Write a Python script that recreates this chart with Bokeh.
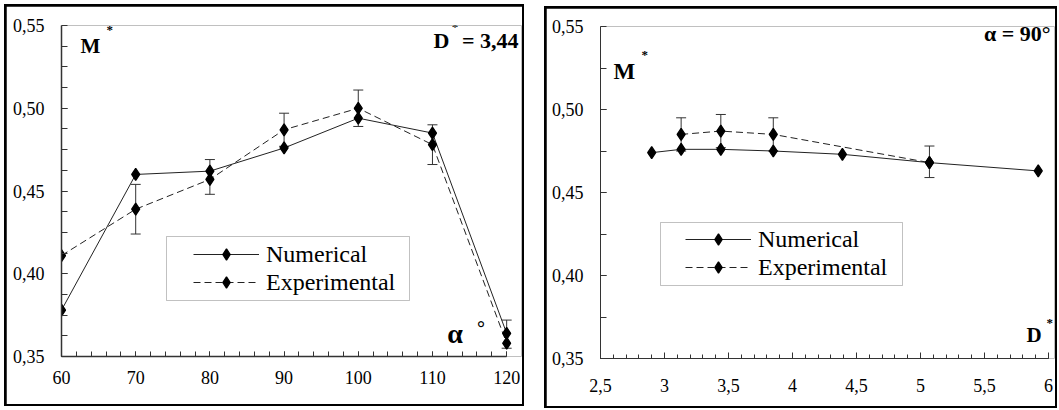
import numpy as np
from bokeh.plotting import figure
from bokeh.models import (ColumnDataSource, Range1d, FixedTicker, CustomJSTickFormatter,
                          Label, Legend, LegendItem, Whisker, TeeHead, BoxAnnotation)
from bokeh.layouts import row, column
from bokeh.embed import file_html
from bokeh.resources import INLINE

# ---------------- data: left panel (D* = 3,44) ----------------
alpha_deg = [60, 70, 80, 90, 100, 110, 120]
m_num_alpha = [0.378, 0.460, 0.462, 0.476, 0.494, 0.485, 0.364]
m_exp_alpha = [0.411, 0.439, 0.457, 0.487, 0.500, 0.478, 0.358]
m_exp_alpha_lo = [None, 0.424, 0.448, 0.477, 0.489, 0.466, 0.355]
m_exp_alpha_hi = [None, 0.454, 0.469, 0.497, 0.511, 0.490, 0.372]

# ---------------- data: right panel (alpha = 90°) ----------------
d_num = [2.90, 3.13, 3.44, 3.85, 4.39, 5.07, 5.92]
m_num_d = [0.474, 0.476, 0.476, 0.475, 0.473, 0.468, 0.463]
d_exp = [3.13, 3.44, 3.85, 5.07]
m_exp_d = [0.485, 0.487, 0.485, 0.468]
m_exp_d_lo = [0.475, 0.477, 0.475, 0.459]
m_exp_d_hi = [0.495, 0.497, 0.495, 0.478]

# ---------------- ticks ----------------
alpha_ticks = [60, 70, 80, 90, 100, 110, 120]
alpha_tick_labels = ["60", "70", "80", "90", "100", "110", "120"]
d_ticks = [2.5, 3.0, 3.5, 4.0, 4.5, 5.0, 5.5, 6.0]
d_tick_labels = ["2,5", "3", "3,5", "4", "4,5", "5", "5,5", "6"]
m_ticks = [0.35, 0.40, 0.45, 0.50, 0.55]
m_tick_labels = ["0,35", "0,40", "0,45", "0,50", "0,55"]

SERIF = "Liberation Serif"
INK = "#222222"
FONT_CSS = {"font-family": "'Liberation Serif', 'Times New Roman', serif"}


def fmt(ticks, labels):
    return CustomJSTickFormatter(args=dict(vals=ticks, labs=labels), code="""
        for (let i = 0; i < vals.length; i++) {
            if (Math.abs(vals[i] - tick) < 1e-6) { return labs[i]; }
        }
        return "";
    """)


def base_fig(width, x_range, mb_left, mb_right, mb_top, mb_bottom):
    p = figure(width=width, height=398, x_range=x_range, y_range=Range1d(0.35, 0.55),
               output_backend="svg", toolbar_location=None,
               min_border_left=mb_left, min_border_right=mb_right,
               min_border_top=mb_top, min_border_bottom=mb_bottom,
               styles=dict(FONT_CSS))
    p.grid.visible = False
    p.outline_line_color = None
    p.background_fill_color = "white"
    p.border_fill_color = "white"
    for ax in (p.xaxis[0], p.yaxis[0]):
        ax.major_label_text_font = SERIF
        ax.major_label_text_font_size = "18px"
        ax.major_label_text_color = "black"
        ax.major_tick_out = 0
        ax.minor_tick_out = 0
        ax.axis_line_color = "#333333"
        ax.major_tick_line_color = "#333333"
        ax.minor_tick_line_color = "#333333"
    return p


def add_text(p, x, y, text, size, bold=True, align="left"):
    p.add_layout(Label(x=x, y=y, text=text, text_font=SERIF, text_font_size=size,
                       text_font_style="bold" if bold else "normal",
                       text_align=align, text_baseline="alphabetic", text_color="black"))


def add_series(p, xs_n, ys_n, xs_e, ys_e, xs_w, lo, hi, legend_xy, box):
    src_w = ColumnDataSource(dict(x=xs_w, lo=lo, hi=hi))
    p.add_layout(Whisker(source=src_w, base="x", lower="lo", upper="hi",
                         line_color="#333333", line_width=1,
                         upper_head=TeeHead(size=10, line_color="#333333", line_width=1),
                         lower_head=TeeHead(size=10, line_color="#333333", line_width=1)))
    ln = p.line(xs_n, ys_n, line_color=INK, line_width=1)
    le = p.line(xs_e, ys_e, line_color=INK, line_width=1, line_dash="7 4")
    se = p.scatter(xs_e, ys_e, marker="diamond", size=12, line_width=1.3,
                   fill_color="black", line_color="black")
    sn = p.scatter(xs_n, ys_n, marker="diamond", size=12, line_width=1.3,
                   fill_color="black", line_color="black")
    legend = Legend(items=[LegendItem(label="Numerical", renderers=[ln, sn]),
                           LegendItem(label="Experimental", renderers=[le, se])],
                    location=legend_xy, padding=4, spacing=0, margin=0,
                    glyph_width=66, glyph_height=28, label_height=28, label_standoff=7,
                    label_text_font=SERIF, label_text_font_size="24px",
                    label_text_color="black",
                    border_line_alpha=0, background_fill_alpha=0)
    p.add_layout(legend)
    l, r, b, t = box
    p.add_layout(BoxAnnotation(left=l, right=r, bottom=b, top=t,
                               left_units="screen", right_units="screen",
                               bottom_units="screen", top_units="screen",
                               fill_alpha=0, fill_color=None,
                               line_color="#333333", line_width=1))


# ---------------- left panel ----------------
p1 = base_fig(516, Range1d(60, 122), 55, 1, 19, 48)
p1.xaxis.bounds = (60, 120)
p1.xaxis.ticker = FixedTicker(ticks=alpha_ticks, minor_ticks=list(np.arange(60, 121, 2)))
p1.xaxis.formatter = fmt(alpha_ticks, alpha_tick_labels)
p1.xaxis.major_tick_in = 5
p1.xaxis.minor_tick_in = 5
p1.xaxis.major_label_standoff = 14
p1.yaxis.ticker = FixedTicker(ticks=m_ticks, minor_ticks=list(np.arange(0.35, 0.5501, 0.0125)))
p1.yaxis.formatter = fmt(m_ticks, m_tick_labels)
p1.yaxis.major_tick_in = 6
p1.yaxis.minor_tick_in = 6
p1.yaxis.major_label_standoff = 17
for ax in (p1.xaxis[0], p1.yaxis[0]):
    ax.axis_line_width = 1.5

idx = [i for i, v in enumerate(m_exp_alpha_lo) if v is not None]
add_series(p1, alpha_deg, m_num_alpha, alpha_deg, m_exp_alpha,
           [alpha_deg[i] for i in idx], [m_exp_alpha_lo[i] for i in idx],
           [m_exp_alpha_hi[i] for i in idx],
           legend_xy=(128, 56), box=(105, 348, 56, 120))

add_text(p1, 62.56, 0.5379, "M", "21px")
add_text(p1, 66.06, 0.5476, "*", "13px")
add_text(p1, 110.13, 0.5409, "D", "22px")
add_text(p1, 112.6, 0.5494, "*", "13px")
add_text(p1, 121.59, 0.5409, "= 3,44", "22px", align="right")
add_text(p1, 112.0, 0.3639, "α", "28px")
add_text(p1, 116.0, 0.3675, "°", "20px")

# ---------------- right panel ----------------
p2 = base_fig(509, Range1d(2.5, 6.047), 54, 1, 18, 48)
p2.xaxis.bounds = (2.5, 6.0)
p2.xaxis.ticker = FixedTicker(ticks=d_ticks, minor_ticks=list(np.arange(2.5, 6.001, 0.1)))
p2.xaxis.formatter = fmt(d_ticks, d_tick_labels)
p2.xaxis.major_tick_in = 6
p2.xaxis.minor_tick_in = 4
p2.xaxis.major_label_standoff = 20
p2.yaxis.ticker = FixedTicker(ticks=m_ticks, minor_ticks=list(np.arange(0.35, 0.5501, 0.025)))
p2.yaxis.formatter = fmt(m_ticks, m_tick_labels)
p2.yaxis.major_tick_in = 6
p2.yaxis.minor_tick_in = 6
p2.yaxis.major_label_standoff = 17

add_series(p2, d_num, m_num_d, d_exp, m_exp_d, d_exp, m_exp_d_lo, m_exp_d_hi,
           legend_xy=(81, 73), box=(60, 302, 73, 136))

add_text(p2, 2.6016, 0.5229, "M", "23px")
add_text(p2, 2.82, 0.5331, "*", "13px")
add_text(p2, 6.016, 0.5458, "α = 90°", "22px", align="right")
add_text(p2, 5.828, 0.3639, "D", "21px")
add_text(p2, 5.984, 0.3717, "*", "13px")

# black frames around each panel: a black wrapper with 2px padding
style_l = {"background-color": "black", "padding": "2px"}
style_l.update(FONT_CSS)
colL = column(p1, styles=dict(style_l), margin=(4, 0, 0, 4))
colR = column(p2, styles=dict(style_l), margin=(6, 0, 0, 20))
root_style = {"background-color": "white"}
root_style.update(FONT_CSS)
layout = row(colL, colR, styles=root_style)
open("out.html", "w").write(file_html(layout, INLINE))
